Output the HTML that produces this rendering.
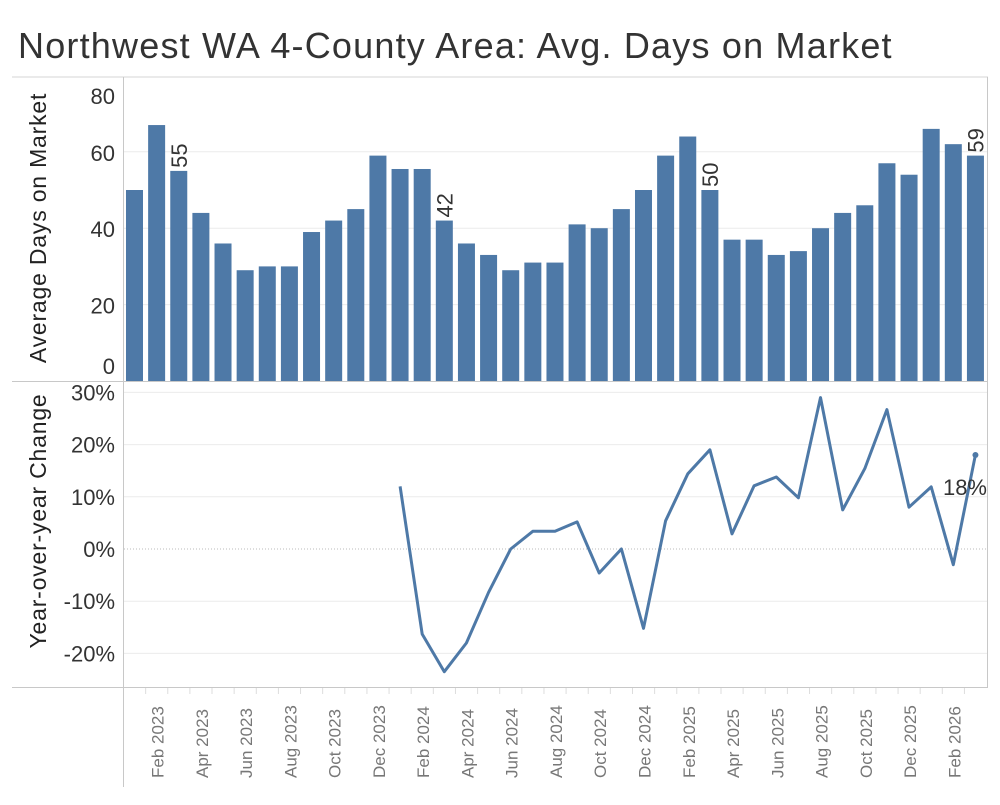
<!DOCTYPE html>
<html><head><meta charset="utf-8"><style>
body{margin:0;background:#fff;width:1000px;height:800px;overflow:hidden;font-family:"Liberation Sans",sans-serif}
</style></head><body>
<svg id="chart" width="1000" height="800" xmlns="http://www.w3.org/2000/svg">
<text x="18" y="58" font-size="36" letter-spacing="1.2" fill="#333">Northwest WA 4-County Area: Avg. Days on Market</text>
<g id="frame"></g>
<g id="bars"></g>
<g id="line"></g>
</svg>
<script>
const months=["Jan 2023","Feb 2023","Mar 2023","Apr 2023","May 2023","Jun 2023","Jul 2023","Aug 2023","Sep 2023","Oct 2023","Nov 2023","Dec 2023","Jan 2024","Feb 2024","Mar 2024","Apr 2024","May 2024","Jun 2024","Jul 2024","Aug 2024","Sep 2024","Oct 2024","Nov 2024","Dec 2024","Jan 2025","Feb 2025","Mar 2025","Apr 2025","May 2025","Jun 2025","Jul 2025","Aug 2025","Sep 2025","Oct 2025","Nov 2025","Dec 2025","Jan 2026","Feb 2026","Mar 2026"];
const daysOnMarket=[50,67,55,44,36,29,30,30,39,42,45,59,55.5,55.5,42,36,33,29,31,31,41,40,45,50,59,64,50,37,37,33,34,40,44,46,57,54,66,62,59];
const yoyChange=[null,null,null,null,null,null,null,null,null,null,null,null,12,-16.3,-23.5,-18,-8.3,0,3.4,3.4,5.2,-4.6,0,-15.2,5.4,14.4,19,2.9,12.1,13.8,9.8,29,7.5,15.4,26.7,8,11.9,-3,18];
const barLabels={2:"55",14:"42",26:"50",38:"59"};
const topTicks=[0,20,40,60,80];
const botTicks=[30,20,10,0,-10,-20];
const NS="http://www.w3.org/2000/svg";
function mk(t,a,p,txt){const e=document.createElementNS(NS,t);for(const k in a)e.setAttribute(k,a[k]);if(txt!==undefined)e.textContent=txt;p.appendChild(e);return e;}
const X0=126,STEP=22.13,BW=17;
const xBar=i=>X0+i*STEP;
const xC=i=>X0+i*STEP+BW/2;
const yTop=v=>381-v*3.82;
const yBot=v=>549-v*5.22;
const frame=document.getElementById('frame'),bars=document.getElementById('bars'),line=document.getElementById('line');
let e;
e=mk('line',{x1:12,x2:988,y1:77,y2:77,stroke:'#d4d4d4'},frame);

e=mk('line',{x1:12,x2:988,y1:381.5,y2:381.5,stroke:'#c8c8c8'},frame);

e=mk('line',{x1:12,x2:988,y1:687.5,y2:687.5,stroke:'#c8c8c8'},frame);

e=mk('line',{x1:123.5,x2:123.5,y1:77,y2:787,stroke:'#c8c8c8'},frame);

e=mk('line',{x1:987.5,x2:987.5,y1:77,y2:687,stroke:'#c8c8c8'},frame);

topTicks.forEach(v=>{
 const y=yTop(v);
 if(v>0&&v<80){e=mk('line',{x1:124,x2:987,y1:y,y2:y,stroke:'#ececec'},frame);
 }
 let ly=Math.min(Math.max(y+9,104),374);
 e=mk('text',{x:115,y:ly,'text-anchor':'end','font-size':22,fill:'#333'},frame,String(v));
 
});
botTicks.forEach(v=>{
 const y=yBot(v);
 e=mk('line',{x1:124,x2:987,y1:y,y2:y,stroke:v===0?'#bbb':'#ececec','stroke-dasharray':v===0?'1,2':''},frame);
 
 e=mk('text',{x:115,y:y+8,'text-anchor':'end','font-size':22,fill:'#333'},frame,v+'%');
 
});
e=mk('text',{transform:'translate(46,228) rotate(-90)','text-anchor':'middle','font-size':23,'letter-spacing':'0.8',fill:'#222'},frame,'Average Days on Market');

e=mk('text',{transform:'translate(46,521) rotate(-90)','text-anchor':'middle','font-size':23,'letter-spacing':'0.8',fill:'#222'},frame,'Year-over-year Change');

daysOnMarket.forEach((v,i)=>{
 const y=yTop(v);
 e=mk('rect',{x:xBar(i),y:y,width:BW,height:381-y,fill:'#4e79a7'},bars);
 
 if(barLabels[i]){
  e=mk('text',{transform:`translate(${xC(i)+8},${y-3}) rotate(-90)`,'font-size':22,fill:'#333'},bars,String(Math.round(v)));
  
 }
});
months.forEach((m,i)=>{
 const x=xBar(i)-2.5;
 if(i>0){e=mk('line',{x1:x,x2:x,y1:688,y2:694,stroke:'#ddd'},frame);
 }
 if(i%2===1){
  e=mk('text',{transform:`translate(${xC(i)+7},778) rotate(-90)`,'font-size':17,fill:'#777'},frame,m);
  
 }
});
let d='';
yoyChange.forEach((v,i)=>{if(v===null)return;d+=(d?'L':'M')+xC(i).toFixed(1)+','+yBot(v).toFixed(1);});
e=mk('path',{d:d,fill:'none',stroke:'#4e79a7','stroke-width':3,'stroke-linejoin':'round'},line);

const li=yoyChange.length-1;
e=mk('circle',{cx:xC(li),cy:yBot(yoyChange[li]),r:3,fill:'#4e79a7'},line);

e=mk('text',{x:987,y:495,'text-anchor':'end','font-size':22,fill:'#333'},line,Math.round(yoyChange[li])+'%');

</script>
</body></html>
